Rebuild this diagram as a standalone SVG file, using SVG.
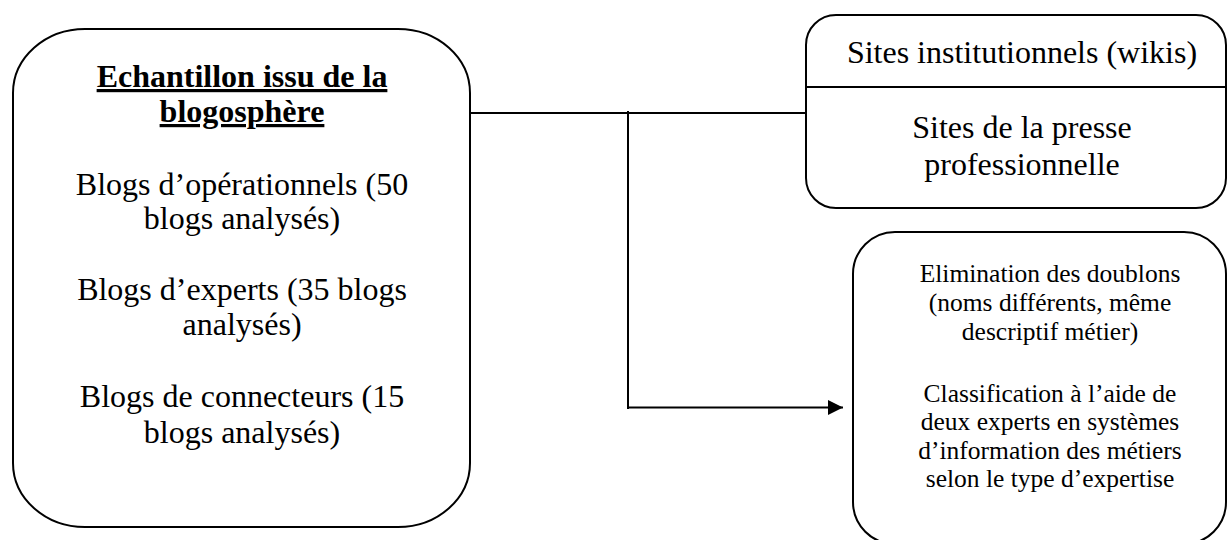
<svg xmlns="http://www.w3.org/2000/svg" width="1228" height="540" viewBox="0 0 1228 540">
<defs>
<style>
.box{fill:#fff;stroke:#000;stroke-width:2}
.t{fill:#000;text-anchor:middle}
.title{font-weight:bold;text-decoration:underline}
.conn{stroke:#000;stroke-width:2;fill:none}
</style>
<marker id="arr" viewBox="0 0 10 10" refX="10" refY="5" markerWidth="15" markerHeight="15" orient="auto" markerUnits="userSpaceOnUse">
<path d="M0,0 L10,5 L0,10 z" fill="#000"/>
</marker>
</defs>
<rect width="1228" height="540" fill="#fff"/>
<g id="connectors">
<line class="conn" x1="470" y1="113" x2="806" y2="113"/>
<line class="conn" x1="628" y1="111" x2="628" y2="409"/>
<line class="conn" x1="628" y1="407.5" x2="843" y2="407.5" marker-end="url(#arr)"/>
</g>
<g id="echantillon" font-family="Liberation Serif, Times New Roman, serif" font-size="32">
<rect class="box" x="13" y="29" width="457" height="498" rx="72" ry="64"/>
<text class="t title" x="242" y="87">Echantillon issu de la</text>
<text class="t title" x="242" y="122">blogosphère</text>
<text class="t" x="242" y="195">Blogs d’opérationnels (50</text>
<text class="t" x="242" y="229">blogs analysés)</text>
<text class="t" x="242" y="300">Blogs d’experts (35 blogs</text>
<text class="t" x="242" y="335">analysés)</text>
<text class="t" x="242" y="407">Blogs de connecteurs (15</text>
<text class="t" x="242" y="443">blogs analysés)</text>
</g>
<g id="sites" font-family="Liberation Serif, Times New Roman, serif" font-size="32">
<rect class="box" x="806" y="15" width="420" height="193" rx="30" ry="30"/>
<line class="conn" x1="806" y1="87" x2="1226" y2="87"/>
<text class="t" x="1022" y="63">Sites institutionnels (wikis)</text>
<text class="t" x="1022" y="138">Sites de la presse</text>
<text class="t" x="1022" y="175">professionnelle</text>
</g>
<g id="traitement" font-family="Liberation Serif, Times New Roman, serif" font-size="25.5">
<rect class="box" x="853" y="232" width="373" height="312" rx="42" ry="42"/>
<text class="t" x="1050" y="282">Elimination des doublons</text>
<text class="t" x="1050" y="311">(noms différents, même</text>
<text class="t" x="1050" y="340">descriptif métier)</text>
<text class="t" x="1050" y="402">Classification à l’aide de</text>
<text class="t" x="1050" y="430">deux experts en systèmes</text>
<text class="t" x="1050" y="459">d’information des métiers</text>
<text class="t" x="1050" y="487">selon le type d’expertise</text>
</g>
</svg>
